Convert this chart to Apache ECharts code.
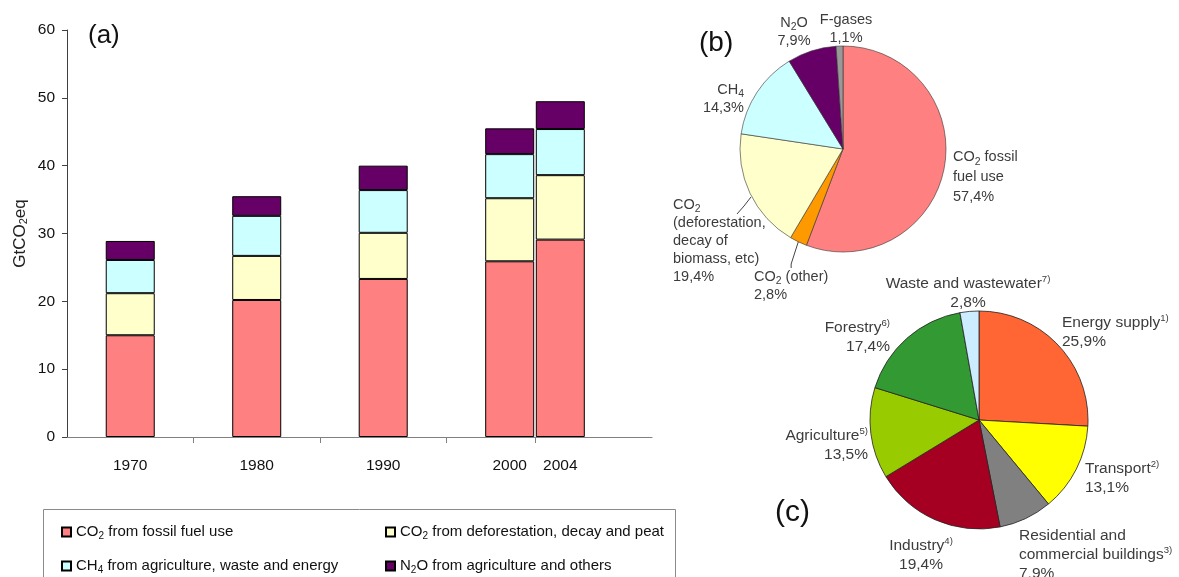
<!DOCTYPE html>
<html>
<head>
<meta charset="utf-8">
<script src="https://cdn.jsdelivr.net/npm/echarts@6/dist/echarts.min.js"></script>
<style>
  html, body { margin: 0; padding: 0; background: #ffffff; }
  #chart { width: 1179px; height: 577px; }
</style>
</head>
<body>
<div id="chart"></div>
<script>
// (a) Global anthropogenic emissions by gas, GtCO2-eq per year
const years = [1970, 1980, 1990, 2000, 2004];
const co2Fossil = [15.0, 20.2, 23.3, 25.9, 29.1];
const co2Deforestation = [6.2, 6.5, 6.8, 9.3, 9.5];
const ch4 = [4.9, 5.9, 6.3, 6.5, 6.8];
const n2o = [2.8, 2.9, 3.6, 3.8, 4.1];
const seriesNames = [
  'CO2 from fossil fuel use',
  'CO2 from deforestation, decay and peat',
  'CH4 from agriculture, waste and energy',
  'N2O from agriculture and others'
];

// (b) Share of each gas in 2004 (CO2-eq)
const gasNames = ['CO2 fossil\nfuel use', 'CO2 (other)', 'CO2\n(deforestation,\ndecay of\nbiomass, etc)', 'CH4', 'N2O', 'F-gases'];
const gasShares = [57.4, 2.8, 19.4, 14.3, 7.9, 1.1];

// (c) Share of each sector in 2004 (CO2-eq)
const sectorNames = ['Energy supply', 'Transport', 'Residential and\ncommercial buildings', 'Industry', 'Agriculture', 'Forestry', 'Waste and wastewater'];
const sectorNotes = ['1)', '2)', '3)', '4)', '5)', '6)', '7)'];
const sectorShares = [25.9, 13.1, 7.9, 19.4, 13.5, 17.4, 2.8];

const SANS = "'Liberation Sans', Arial, sans-serif";

const barColors = ['#FF8080', '#FFFFCC', '#CCFFFF', '#660066'];
const gasColors = ['#FF8080', '#FF9900', '#FFFFCC', '#CCFFFF', '#660066', '#999999'];
const sectorColors = ['#FF6633', '#FFFF00', '#808080', '#A50021', '#99CC00', '#339933', '#CCECFF'];

// chemical formulae: put the digit after CO / CH / N into a subscript token
const sub = s => s.replace(/(CO|CH|N)(\d)/g, '$1{s|$2}');
const pct = v => v.toFixed(1).replace('.', ',') + '%';

// ticks sit between neighbouring bars
const tickYears = years.slice(1).map((y, i) => (y + years[i]) / 2);

// the value goes in the first dimension so that stacking applies to it
const barSeries = [co2Fossil, co2Deforestation, ch4, n2o].map((vals, k) => ({
  name: seriesNames[k],
  type: 'bar',
  stack: 'total',
  barWidth: 49,
  encode: { x: 1, y: 0 },
  data: years.map((y, i) => [vals[i], y]),
  itemStyle: { color: barColors[k], borderColor: '#000', borderWidth: 1 },
  emphasis: { disabled: true },
  silent: true
}));

// label placement around pie (b)
const gasLabelPlace = [
  { x: 953, y: 147, align: 'left' },
  { x: 754, y: 268, align: 'left' },
  { x: 673, y: 196, align: 'left', labelLinePoints: [[751, 197], [744, 206], [737, 214]] },
  { x: 744, y: 81, align: 'right' },
  { x: 794, y: 14, align: 'center' },
  { x: 846, y: 11, align: 'center' }
];
// label placement around pie (c)
const sectorLabelPlace = [
  { x: 1062, y: 313, align: 'left' },
  { x: 1085, y: 459, align: 'left' },
  { x: 1019, y: 526, align: 'left' },
  { x: 921, y: 536, align: 'center' },
  { x: 868, y: 426, align: 'right' },
  { x: 890, y: 318, align: 'right' },
  { x: 968, y: 274, align: 'center' }
];

const pieText = (size, lh) => ({
  fontFamily: SANS, fontSize: size, color: '#3c3c3c', lineHeight: lh,
  rich: {
    s: { fontFamily: SANS, fontSize: size * 0.72, lineHeight: lh * 0.8, verticalAlign: 'bottom', color: '#3c3c3c' },
    sup: { fontFamily: SANS, fontSize: size * 0.62, lineHeight: lh * 0.6, verticalAlign: 'top', color: '#3c3c3c' }
  }
});

const gasSeries = {
  type: 'pie',
  center: [843, 149],
  radius: 103,
  startAngle: 90,
  clockwise: true,
  silent: true,
  avoidLabelOverlap: false,
  itemStyle: { borderColor: '#333', borderWidth: 0.6 },
  label: Object.assign({ show: true, position: 'outside', formatter: p => sub(p.name) + '\n' + pct(p.value) }, pieText(14.5, 18)),
  labelLine: { show: false },
  labelLayout: p => Object.assign({ verticalAlign: 'top' }, gasLabelPlace[p.dataIndex]),
  data: gasNames.map((n, i) => {
    const d = { name: n, value: gasShares[i], itemStyle: { color: gasColors[i] } };
    if (i === 0) d.label = { lineHeight: 20 };
    if (i === 1 || i === 2) d.labelLine = { show: true, length: 6, length2: 4, lineStyle: { color: '#444', width: 1 } };
    return d;
  })
};

const sectorSeries = {
  type: 'pie',
  center: [979, 420],
  radius: 109,
  startAngle: 90,
  clockwise: true,
  silent: true,
  avoidLabelOverlap: false,
  itemStyle: { borderColor: '#222', borderWidth: 0.8 },
  label: Object.assign({
    show: true, position: 'outside',
    formatter: p => p.name + '{sup|' + sectorNotes[p.dataIndex] + '}\n' + pct(p.value)
  }, pieText(15.5, 19)),
  labelLine: { show: false },
  labelLayout: p => Object.assign({ verticalAlign: 'top' }, sectorLabelPlace[p.dataIndex]),
  data: sectorNames.map((n, i) => ({ name: n, value: sectorShares[i], itemStyle: { color: sectorColors[i] } }))
};

// one legend entry per slot of the 2 x 2 key
const legendSlots = [
  { left: 56, top: 518 },
  { left: 380, top: 518 },
  { left: 56, top: 552 },
  { left: 380, top: 552 }
];
const legends = seriesNames.map((name, i) => Object.assign({
  data: [name], orient: 'horizontal', itemWidth: 9, itemHeight: 9, itemGap: 0,
  icon: 'rect', selectedMode: false, formatter: sub,
  textStyle: {
    fontFamily: SANS, fontSize: 15, color: '#111', lineHeight: 18,
    rich: { s: { fontFamily: SANS, fontSize: 10, lineHeight: 12, verticalAlign: 'bottom', color: '#111' } }
  }
}, legendSlots[i]));

const option = {
  animation: false,
  backgroundColor: '#ffffff',
  grid: { left: 67, top: 30, width: 585, height: 407, containLabel: false },
  xAxis: {
    type: 'value', min: 1965, max: 2011.25,
    splitLine: { show: false },
    axisLine: { show: true, lineStyle: { color: '#808080', width: 1 } },
    axisTick: { show: true, customValues: tickYears, length: 6, lineStyle: { color: '#808080' } },
    axisLabel: { customValues: years, margin: 21, fontFamily: SANS, fontSize: 15.5, color: '#111', formatter: v => String(v) }
  },
  yAxis: {
    type: 'value', min: 0, max: 60, interval: 10,
    name: 'GtCO{s|2}eq', nameLocation: 'middle', nameGap: 38, nameRotate: 90,
    nameTextStyle: {
      fontFamily: SANS, fontSize: 17, color: '#222', lineHeight: 18,
      rich: { s: { fontFamily: SANS, fontSize: 11, lineHeight: 12, verticalAlign: 'bottom', color: '#222' } }
    },
    splitLine: { show: false },
    axisLine: { show: true, lineStyle: { color: '#404040', width: 1 } },
    axisTick: { show: true, length: 5, lineStyle: { color: '#404040' } },
    axisLabel: { margin: 12, fontFamily: SANS, fontSize: 15.5, color: '#111' }
  },
  legend: legends,
  graphic: [
    { type: 'rect', left: 41, top: 507, shape: { width: 632, height: 80 }, style: { fill: 'none', stroke: '#8a8a8a', lineWidth: 1 }, silent: true },
    { type: 'text', left: 88, top: 23, style: { text: '(a)', font: "26px 'Liberation Sans', Arial, sans-serif", fill: '#111' } },
    { type: 'text', left: 699, top: 29, style: { text: '(b)', font: "28px 'Liberation Sans', Arial, sans-serif", fill: '#111' } },
    { type: 'text', left: 775, top: 498, style: { text: '(c)', font: "30px 'Liberation Sans', Arial, sans-serif", fill: '#111' } }
  ],
  series: barSeries.concat([gasSeries, sectorSeries])
};

const chart = echarts.init(document.getElementById('chart'), null, { renderer: 'canvas' });
chart.setOption(option);
</script>
</body>
</html>
